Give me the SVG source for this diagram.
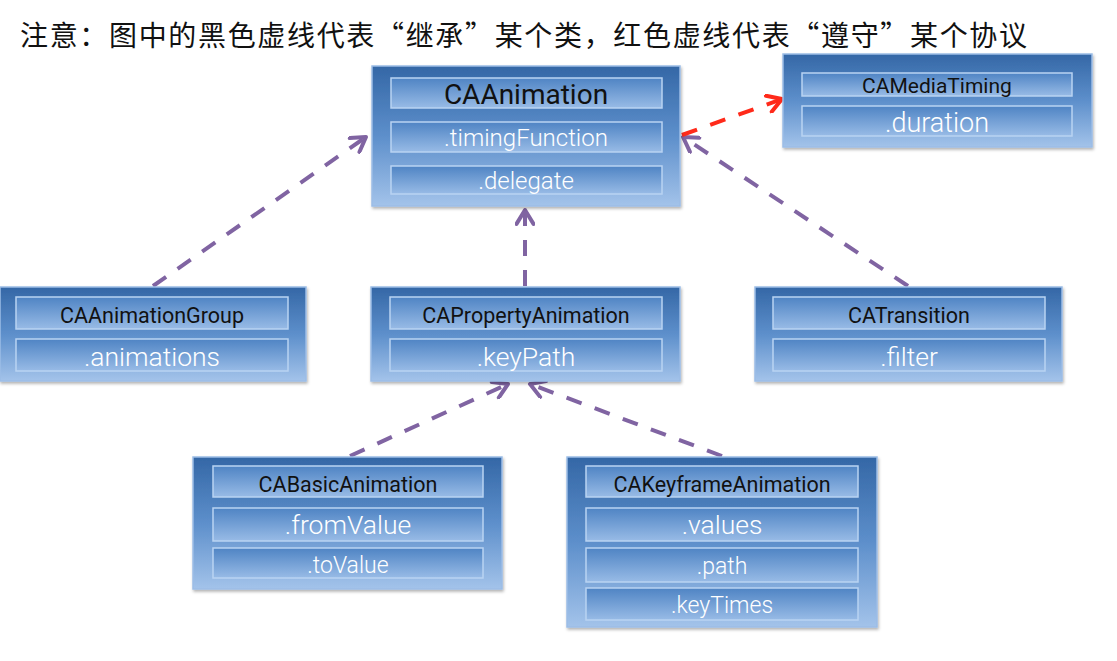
<svg xmlns="http://www.w3.org/2000/svg" width="1117" height="661" viewBox="0 0 1117 661">
<defs>
<linearGradient id="gOuter" x1="0" y1="0" x2="0" y2="1">
<stop offset="0" stop-color="#3467a6"/>
<stop offset="0.5" stop-color="#5d8fcb"/>
<stop offset="1" stop-color="#a3c3ea"/>
</linearGradient>
<linearGradient id="gBar" x1="0" y1="0" x2="0" y2="1">
<stop offset="0" stop-color="#4f84c4"/>
<stop offset="1" stop-color="#98bbe6"/>
</linearGradient>
<filter id="sh" x="-5%" y="-5%" width="110%" height="115%">
<feDropShadow dx="1" dy="2" stdDeviation="1.5" flood-color="#000" flood-opacity="0.3"/>
</filter>
<marker id="ap" viewBox="0 0 20 20" refX="17" refY="10" markerWidth="20" markerHeight="20" markerUnits="userSpaceOnUse" orient="auto">
<path d="M3,1.5 L17,10 L3,18.5" fill="none" stroke="#8064a2" stroke-width="4" stroke-linecap="round" stroke-linejoin="round"/>
</marker>
<marker id="ar" viewBox="0 0 20 20" refX="17" refY="10" markerWidth="20" markerHeight="20" markerUnits="userSpaceOnUse" orient="auto">
<path d="M3,1.5 L17,10 L3,18.5" fill="none" stroke="#ff2a1a" stroke-width="4" stroke-linecap="round" stroke-linejoin="round"/>
</marker>
</defs>
<style>
.box{fill:url(#gOuter);stroke:#9cbde6;stroke-width:1.5;filter:url(#sh)}
.bar{fill:url(#gBar);stroke:#b9d3f2;stroke-width:1.5}
.t{font-family:Roboto,"Liberation Sans",sans-serif;text-anchor:middle}
.hd{fill:#111;font-weight:400}
.wt{fill:#ffffff;font-weight:300}
.title{font-family:"Noto Sans CJK SC","Noto Sans",sans-serif;font-size:28px;font-weight:400;fill:#111}
.cp{fill:none;stroke:#8064a2;stroke-width:4;stroke-dasharray:16 14;marker-end:url(#ap)}
.cr{fill:none;stroke:#ff2a1a;stroke-width:4;stroke-dasharray:16 14;marker-end:url(#ar)}
</style>
<rect width="1117" height="661" fill="#ffffff"/>
<text class="title" x="20" y="46" textLength="1007" lengthAdjust="spacing">注意：图中的黑色虚线代表“继承”某个类，红色虚线代表“遵守”某个协议</text>

<g id="connectors">
<path class="cp" d="M153,286 L366,137"/>
<path class="cp" d="M525,286 L525,210"/>
<path class="cp" d="M908,286 L683,137"/>
<path class="cp" d="M350,456 L508,384"/>
<path class="cp" d="M722,456 L530,384"/>
<path class="cr" d="M682,135 L782,99"/>
</g>

<g id="CAAnimation">
<rect class="box" x="372" y="66" width="308" height="140"/>
<rect class="bar" x="391" y="78" width="271" height="30"/>
<rect class="bar" x="391" y="122" width="271" height="30"/>
<rect class="bar" x="391" y="166" width="271" height="28"/>
<text class="t hd" x="526" y="104" font-size="28">CAAnimation</text>
<text class="t wt" x="526" y="146" font-size="24">.timingFunction</text>
<text class="t wt" x="526" y="189" font-size="24">.delegate</text>
</g>

<g id="CAMediaTiming">
<rect class="box" x="783" y="54" width="309" height="93"/>
<rect class="bar" x="802" y="73" width="270" height="23"/>
<rect class="bar" x="802" y="106" width="270" height="30"/>
<text class="t hd" x="937" y="93" font-size="21">CAMediaTiming</text>
<text class="t wt" x="937" y="132" font-size="27">.duration</text>
</g>

<g id="CAAnimationGroup">
<rect class="box" x="0" y="287" width="306" height="94"/>
<rect class="bar" x="16" y="297" width="272" height="32"/>
<rect class="bar" x="16" y="339" width="272" height="32"/>
<text class="t hd" x="152" y="323" font-size="21.5">CAAnimationGroup</text>
<text class="t wt" x="152" y="366" font-size="26.5">.animations</text>
</g>

<g id="CAPropertyAnimation">
<rect class="box" x="371" y="287" width="309" height="94"/>
<rect class="bar" x="390" y="297" width="272" height="32"/>
<rect class="bar" x="390" y="339" width="272" height="32"/>
<text class="t hd" x="526" y="323" font-size="21.5">CAPropertyAnimation</text>
<text class="t wt" x="526" y="366" font-size="26.5">.keyPath</text>
</g>

<g id="CATransition">
<rect class="box" x="755" y="287" width="307" height="94"/>
<rect class="bar" x="773" y="297" width="272" height="32"/>
<rect class="bar" x="773" y="339" width="272" height="32"/>
<text class="t hd" x="909" y="323" font-size="21.5">CATransition</text>
<text class="t wt" x="909" y="366" font-size="26.5">.filter</text>
</g>

<g id="CABasicAnimation">
<rect class="box" x="193" y="457" width="309" height="132"/>
<rect class="bar" x="213" y="466" width="270" height="31"/>
<rect class="bar" x="213" y="508" width="270" height="33"/>
<rect class="bar" x="213" y="548" width="270" height="30"/>
<text class="t hd" x="348" y="492" font-size="21.5">CABasicAnimation</text>
<text class="t wt" x="348" y="534" font-size="26.5">.fromValue</text>
<text class="t wt" x="348" y="573" font-size="23">.toValue</text>
</g>

<g id="CAKeyframeAnimation">
<rect class="box" x="567" y="457" width="310" height="170"/>
<rect class="bar" x="586" y="466" width="272" height="31"/>
<rect class="bar" x="586" y="508" width="272" height="33"/>
<rect class="bar" x="586" y="548" width="272" height="34"/>
<rect class="bar" x="586" y="588" width="272" height="32"/>
<text class="t hd" x="722" y="492" font-size="21.5">CAKeyframeAnimation</text>
<text class="t wt" x="722" y="534" font-size="26.5">.values</text>
<text class="t wt" x="722" y="574" font-size="23">.path</text>
<text class="t wt" x="722" y="613" font-size="23">.keyTimes</text>
</g>
</svg>
